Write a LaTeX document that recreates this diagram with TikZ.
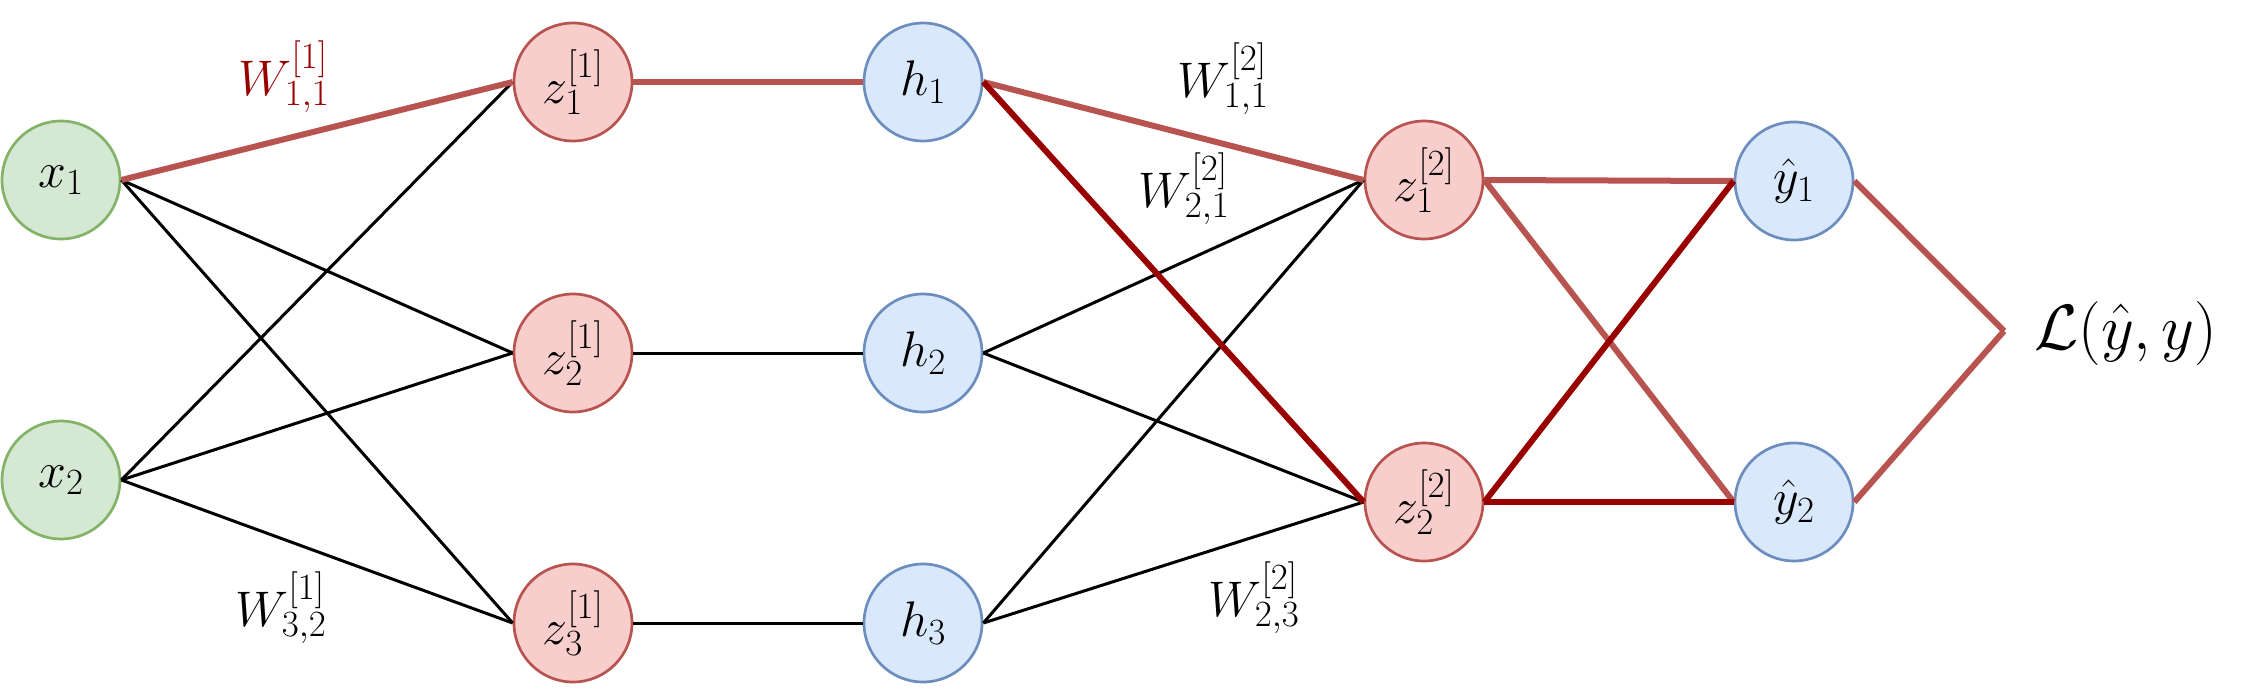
\RequirePackage{fix-cm}
\documentclass[tikz,border=0pt]{standalone}
\usepackage{amsmath}
\DeclareMathSizes{50}{50}{37}{28}
\DeclareMathSizes{64}{64}{46}{34}
\definecolor{gfill}{HTML}{D5E8D4}
\definecolor{gdraw}{HTML}{82B366}
\definecolor{rfill}{HTML}{F8CECC}
\definecolor{rdraw}{HTML}{B85450}
\definecolor{bfill}{HTML}{DAE8FC}
\definecolor{bdraw}{HTML}{6C8EBF}
\definecolor{dred}{HTML}{990000}
\tikzset{
  neuron/.style={circle, line width=2.7pt, minimum size=118pt, inner sep=0pt, font=\fontsize{50}{60}\selectfont},
  inp/.style={neuron, fill=gfill, draw=gdraw},
  zn/.style={neuron, fill=rfill, draw=rdraw},
  hn/.style={neuron, fill=bfill, draw=bdraw},
  plain/.style={line width=3pt, black},
  hl/.style={line width=6pt, rdraw},
  hld/.style={line width=6pt, dred},
  wlab/.style={inner sep=0pt, font=\fontsize{50}{60}\selectfont},
}
\begin{document}
\begin{tikzpicture}[x=1pt,y=-1pt]
\useasboundingbox (0,0) rectangle (2244,699);
% nodes
\node[inp] (x1) at (61,180) {$x_1$};
\node[inp] (x2) at (61,480) {$x_2$};
\node[zn] (z11) at (573,82) {$z^{[1]}_1$};
\node[zn] (z12) at (573,353) {$z^{[1]}_2$};
\node[zn] (z13) at (573,623) {$z^{[1]}_3$};
\node[hn] (h1) at (923,82) {$h_1$};
\node[hn] (h2) at (923,353) {$h_2$};
\node[hn] (h3) at (923,623) {$h_3$};
\node[zn] (z21) at (1424,180) {$z^{[2]}_1$};
\node[zn] (z22) at (1424,502) {$z^{[2]}_2$};
\node[hn] (y1) at (1794,181) {$\hat{y}_1$};
\node[hn] (y2) at (1794,502) {$\hat{y}_2$};
\coordinate (join) at (2004,331);
\node[inner sep=0pt, font=\fontsize{64}{76}\selectfont, anchor=west] (loss) at (2034,333) {$\mathcal{L}(\hat{y},y)$};
% layer 1 edges
\draw[plain] (x1.east) -- (z12.west);
\draw[plain] (x1.east) -- (z13.west);
\draw[plain] (x2.east) -- (z11.west);
\draw[plain] (x2.east) -- (z12.west);
\draw[plain] (x2.east) -- (z13.west);
\draw[hl] (x1.east) -- (z11.west);
% z to h
\draw[hl] (z11.east) -- (h1.west);
\draw[plain] (z12.east) -- (h2.west);
\draw[plain] (z13.east) -- (h3.west);
% layer 2 edges
\draw[plain] (h2.east) -- (z21.west);
\draw[plain] (h2.east) -- (z22.west);
\draw[plain] (h3.east) -- (z21.west);
\draw[plain] (h3.east) -- (z22.west);
\draw[hl] (h1.east) -- (z21.west);
\draw[hld] (h1.east) -- (z22.west);
% output edges
\draw[hl] (z21.east) -- (y1.west);
\draw[hl] (z21.east) -- (y2.west);
\draw[hld] (z22.east) -- (y1.west);
\draw[hld] (z22.east) -- (y2.west);
% loss edges
\draw[hl] (y1.east) -- (join);
\draw[hl] (y2.east) -- (join);
% weight labels
\node[wlab, text=dred] (w111) at (284,77) {$W^{[1]}_{1,1}$};
\node[wlab] (w132) at (281,608) {$W^{[1]}_{3,2}$};
\node[wlab] (w211) at (1223,79) {$W^{[2]}_{1,1}$};
\node[wlab] (w221) at (1184,189) {$W^{[2]}_{2,1}$};
\node[wlab] (w223) at (1254,598) {$W^{[2]}_{2,3}$};
\end{tikzpicture}
\end{document}
